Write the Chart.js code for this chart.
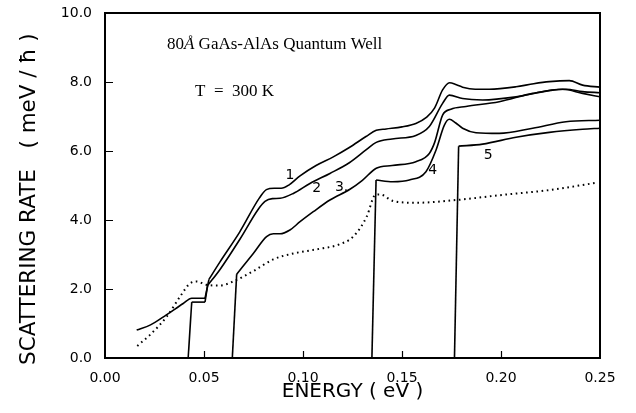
<!DOCTYPE html>
<html><head><meta charset="utf-8">
<script src="https://cdn.jsdelivr.net/npm/chart.js@4"></script>
<style>html,body{margin:0;padding:0;background:#fff}canvas{display:block}</style>
</head><body>
<canvas id="c" width="636" height="413" style="width:636px;height:413px"></canvas>
<script>
// ---- data ----
const xTickValues = [0.00, 0.05, 0.10, 0.15, 0.20, 0.25];
const yTickValues = [0.0, 2.0, 4.0, 6.0, 8.0, 10.0];

const curve1Energy = [0.016,0.023,0.031,0.0395,0.0438,0.0505,0.0525,0.058,0.068,0.078,0.0815,0.0855,0.089,0.093,0.0985,0.1066,0.1153,0.1234,0.1318,0.137,0.142,0.150,0.157,0.1625,0.1665,0.1705,0.174,0.1775,0.1806,0.187,0.194,0.2076,0.2165,0.2244,0.2345,0.2412,0.25];
const curve1Rate   = [0.81,0.96,1.25,1.58,1.73,1.73,2.28,2.78,3.65,4.64,4.88,4.92,4.92,5.02,5.28,5.58,5.83,6.10,6.42,6.60,6.64,6.70,6.80,6.98,7.25,7.77,7.98,7.92,7.85,7.79,7.79,7.86,7.95,8.01,8.04,7.91,7.85];

const curve2Energy = [0.0420,0.0438,0.0505,0.0518,0.058,0.0682,0.0775,0.0808,0.0845,0.0884,0.0951,0.1035,0.1136,0.1234,0.1318,0.137,0.145,0.157,0.1638,0.1705,0.1739,0.1806,0.1907,0.2076,0.2244,0.2328,0.2412,0.25];
const curve2Rate   = [0.00,1.62,1.62,2.10,2.56,3.45,4.32,4.54,4.62,4.63,4.77,5.06,5.35,5.66,6.03,6.25,6.35,6.45,6.71,7.38,7.62,7.52,7.48,7.57,7.75,7.79,7.72,7.69];

const curve3Energy = [0.0643,0.0665,0.0749,0.0816,0.085,0.0884,0.0934,0.0985,0.1052,0.1136,0.1237,0.130,0.137,0.145,0.157,0.1638,0.1665,0.1705,0.1747,0.1823,0.1991,0.216,0.2311,0.2412,0.25];
const curve3Rate   = [0.00,2.43,3.03,3.52,3.60,3.60,3.71,3.95,4.24,4.58,4.89,5.15,5.50,5.58,5.69,5.93,6.25,7.04,7.21,7.29,7.43,7.67,7.79,7.67,7.57];

const curve4Energy = [0.1348,0.1369,0.1453,0.1537,0.1621,0.1672,0.1714,0.1739,0.177,0.1806,0.1874,0.1991,0.216,0.2328,0.25];
const curve4Rate   = [0.00,5.16,5.11,5.16,5.40,6.03,6.75,6.92,6.82,6.66,6.53,6.51,6.66,6.85,6.89];

const curve5Energy = [0.1765,0.1786,0.1907,0.2076,0.2244,0.2412,0.25];
const curve5Rate   = [0.00,6.14,6.20,6.40,6.54,6.63,6.66];

const dottedEnergy = [0.0163,0.0227,0.0312,0.0379,0.0429,0.0463,0.0513,0.0581,0.0648,0.0749,0.085,0.0951,0.1069,0.1187,0.1254,0.1322,0.1364,0.1389,0.1456,0.1574,0.1776,0.1995,0.2247,0.2483];
const dottedRate   = [0.35,0.67,1.20,1.78,2.16,2.22,2.12,2.10,2.22,2.52,2.86,3.03,3.15,3.30,3.52,4.10,4.72,4.74,4.55,4.50,4.58,4.72,4.87,5.08];

const curveLabels      = ['1', '2', '3.', '4', '5'];
const curveLabelEnergy = [0.0934, 0.1069, 0.1195, 0.1655, 0.1936];
const curveLabelRate   = [5.30, 4.92, 4.95, 5.45, 5.86];

const titleLine = ['80', 'Å', ' GaAs-AlAs Quantum Well'];
const tempLine = 'T  =  300 K';

// ---- build ----
const pts = (e, r) => e.map((v, i) => ({x: v, y: r[i]}));
// split a curve: near-vertical steps become straight segments, the rest is smooth
function curveDatasets(e, r) {
  const p = pts(e, r), out = [];
  const steep = i => Math.abs((p[i + 1].y - p[i].y) / (p[i + 1].x - p[i].x)) > 250;
  let run = [p[0]];
  const flush = () => { if (run.length > 1) out.push({data: run, smooth: true}); };
  for (let i = 0; i < p.length - 1; i++) {
    if (steep(i)) {
      flush();
      out.push({data: [p[i], p[i + 1]], smooth: false});
      run = [p[i + 1]];
    } else run.push(p[i + 1]);
  }
  flush();
  return out.map(s => ({
    data: s.data, borderColor: '#000', borderWidth: 1.6, pointRadius: 0, fill: false,
    tension: 0, cubicInterpolationMode: s.smooth ? 'monotone' : 'default'
  }));
}

const decor = {
  id: 'decor',
  afterDraw(chart) {
    const {ctx, chartArea: a, scales: {x, y}} = chart;
    ctx.save();
    ctx.strokeStyle = '#000';
    ctx.lineWidth = 2;
    ctx.strokeRect(a.left, a.top, a.right - a.left, a.bottom - a.top);
    ctx.lineWidth = 1.2;
    ctx.beginPath();
    x.ticks.forEach(t => {
      if (t.value <= x.min + 1e-9 || t.value >= x.max - 1e-9) return;
      const px = Math.round(x.getPixelForValue(t.value)) + 0.5;
      ctx.moveTo(px, a.bottom); ctx.lineTo(px, a.bottom - 7);
    });
    y.ticks.forEach(t => {
      if (t.value <= y.min + 1e-9 || t.value >= y.max - 1e-9) return;
      const py = Math.round(y.getPixelForValue(t.value)) + 0.5;
      ctx.moveTo(a.left, py); ctx.lineTo(a.left + 8, py);
    });
    ctx.stroke();

    // curve labels
    ctx.fillStyle = '#000';
    ctx.font = '14px "DejaVu Sans"';
    ctx.textAlign = 'center';
    ctx.textBaseline = 'middle';
    curveLabels.forEach((t, i) => {
      ctx.fillText(t, x.getPixelForValue(curveLabelEnergy[i]), y.getPixelForValue(curveLabelRate[i]));
    });

    // annotation text
    ctx.textAlign = 'left';
    ctx.textBaseline = 'alphabetic';
    let tx = x.getPixelForValue(0.0313), ty = y.getPixelForValue(8.97);
    ctx.font = '17px "Liberation Serif"';
    ctx.fillText(titleLine[0], tx, ty); tx += ctx.measureText(titleLine[0]).width;
    ctx.font = 'italic 17px "Liberation Serif"';
    ctx.fillText(titleLine[1], tx, ty); tx += ctx.measureText(titleLine[1]).width;
    ctx.font = '17px "Liberation Serif"';
    ctx.fillText(titleLine[2], tx, ty);
    ctx.fillText(tempLine, x.getPixelForValue(0.0455), y.getPixelForValue(7.6));
    ctx.restore();
  }
};

new Chart(document.getElementById('c'), {
  type: 'line',
  data: {
    datasets: [
      ...curveDatasets(curve1Energy, curve1Rate),
      ...curveDatasets(curve2Energy, curve2Rate),
      ...curveDatasets(curve3Energy, curve3Rate),
      ...curveDatasets(curve4Energy, curve4Rate),
      ...curveDatasets(curve5Energy, curve5Rate),
      {
        data: pts(dottedEnergy, dottedRate), borderColor: '#000', borderWidth: 2,
        borderDash: [1.6, 3.6], pointRadius: 0, cubicInterpolationMode: 'monotone', fill: false
      }
    ]
  },
  options: {
    responsive: false, animation: false, devicePixelRatio: 1,
    layout: {padding: {left: 0, right: 36, top: 13, bottom: 0}},
    plugins: {legend: {display: false}, tooltip: {enabled: false}},
    scales: {
      x: {
        type: 'linear', min: 0, max: 0.25,
        afterBuildTicks: s => { s.ticks = xTickValues.map(v => ({value: v})); },
        afterFit: s => { s.height = 55; s.paddingLeft = 0; s.paddingRight = 0; s.paddingTop = 0; s.paddingBottom = 0; },
        grid: {display: false, drawTicks: false},
        border: {display: true, color: '#000', width: 2},
        ticks: {color: '#000', padding: 12, font: {family: 'DejaVu Sans', size: 14},
                callback: v => Number(v).toFixed(2)},
        title: {display: true, text: 'ENERGY ( eV )', color: '#000',
                font: {family: 'DejaVu Sans', size: 20}, padding: {bottom: 9, top: 0}}
      },
      y: {
        type: 'linear', min: 0, max: 10,
        afterBuildTicks: s => { s.ticks = yTickValues.map(v => ({value: v})); },
        afterFit: s => { s.width = 105; s.paddingTop = 0; s.paddingBottom = 0; s.paddingLeft = 0; s.paddingRight = 0; },
        grid: {display: false, drawTicks: false},
        border: {display: true, color: '#000', width: 2},
        ticks: {color: '#000', padding: 13, font: {family: 'DejaVu Sans', size: 14},
                callback: v => Number(v).toFixed(1)},
        title: {display: true, text: 'SCATTERING RATE   ( meV / ħ )\u00a0\u00a0\u00a0\u00a0', color: '#000',
                font: {family: 'DejaVu Sans', size: 21.5}, padding: {top: 17, bottom: 0}}
      }
    }
  },
  plugins: [decor]
});
</script>
</body></html>
